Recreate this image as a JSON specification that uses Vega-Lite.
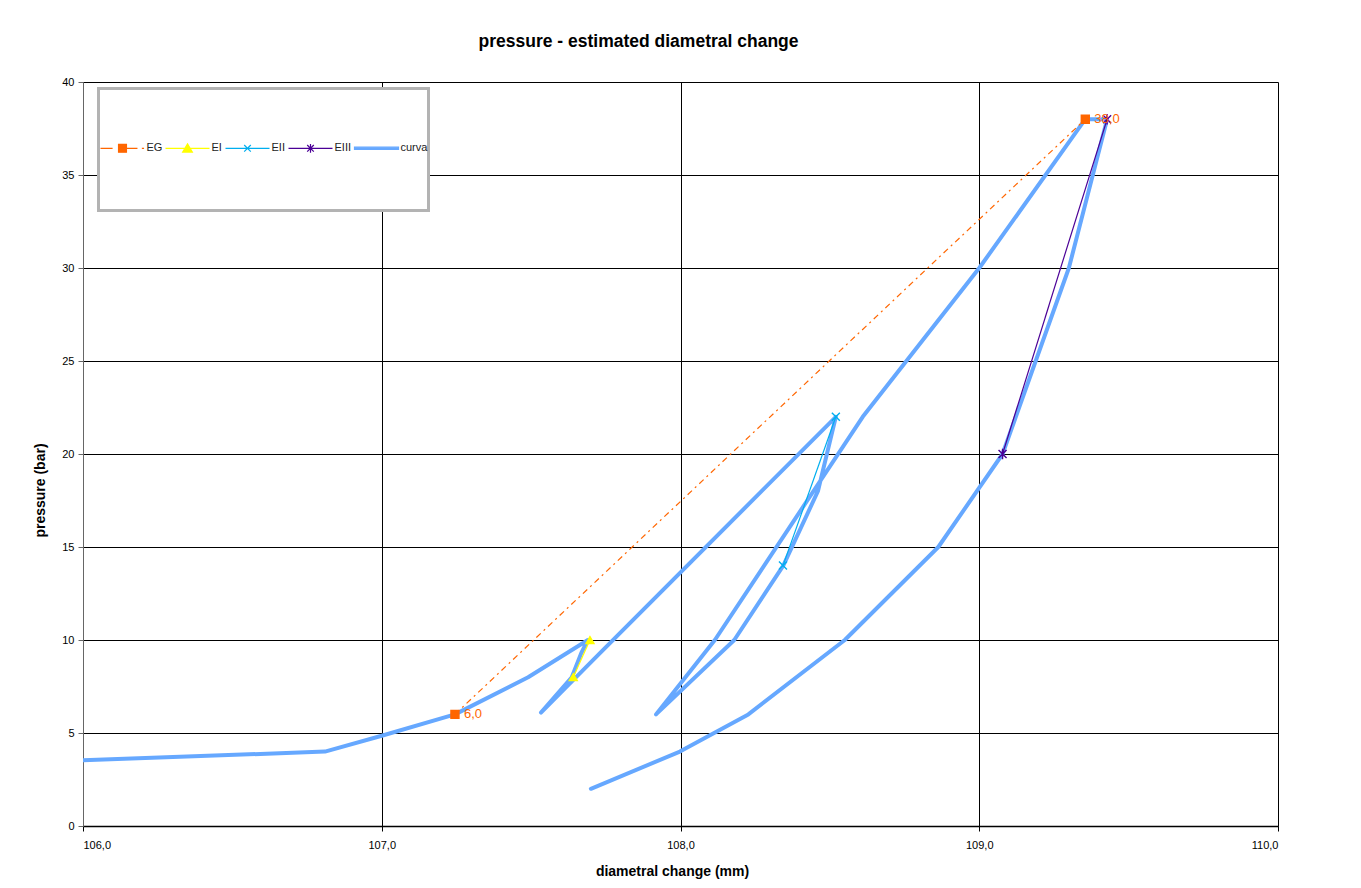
{
  "$schema": "https://vega.github.io/schema/vega-lite/v6.json",
  "width": 1195,
  "height": 744,
  "autosize": {"type": "none"},
  "padding": {"left": 83, "top": 82, "right": 83, "bottom": 62},
  "background": "white",
  "title": {
    "text": "pressure - estimated diametral change",
    "font": "Liberation Sans",
    "fontSize": 17.5,
    "fontWeight": "bold",
    "color": "#000000",
    "anchor": "middle",
    "dx": -42,
    "offset": 26
  },
  "data": {
    "values": [
      {"series": "curva", "i": 1, "x": 105.08, "p": 3.0},
      {"series": "curva", "i": 2, "x": 106.81, "p": 4.0},
      {"series": "curva", "i": 3, "x": 107.0, "p": 4.85},
      {"series": "curva", "i": 4, "x": 107.245, "p": 6.0},
      {"series": "curva", "i": 5, "x": 107.49, "p": 8.0},
      {"series": "curva", "i": 6, "x": 107.69, "p": 10.0},
      {"series": "curva", "i": 7, "x": 107.668, "p": 9.3},
      {"series": "curva", "i": 8, "x": 107.636, "p": 8.0},
      {"series": "curva", "i": 9, "x": 107.533, "p": 6.1},
      {"series": "curva", "i": 10, "x": 107.712, "p": 9.0},
      {"series": "curva", "i": 11, "x": 108.52, "p": 22.0},
      {"series": "curva", "i": 12, "x": 108.46, "p": 18.0},
      {"series": "curva", "i": 13, "x": 108.344, "p": 14.0},
      {"series": "curva", "i": 14, "x": 108.18, "p": 10.0},
      {"series": "curva", "i": 15, "x": 107.918, "p": 6.0},
      {"series": "curva", "i": 16, "x": 108.115, "p": 10.0},
      {"series": "curva", "i": 17, "x": 108.61, "p": 22.0},
      {"series": "curva", "i": 18, "x": 109.0, "p": 30.0},
      {"series": "curva", "i": 19, "x": 109.355, "p": 38.0},
      {"series": "curva", "i": 20, "x": 109.428, "p": 38.0},
      {"series": "curva", "i": 21, "x": 109.3, "p": 30.0},
      {"series": "curva", "i": 22, "x": 109.078, "p": 20.0},
      {"series": "curva", "i": 23, "x": 108.863, "p": 15.0},
      {"series": "curva", "i": 24, "x": 108.55, "p": 10.0},
      {"series": "curva", "i": 25, "x": 108.227, "p": 6.0},
      {"series": "curva", "i": 26, "x": 107.998, "p": 4.0},
      {"series": "curva", "i": 27, "x": 107.7, "p": 2.0},
      {"series": "EG", "i": 1, "x": 107.245, "p": 6.0},
      {"series": "EG", "i": 2, "x": 109.355, "p": 38.0},
      {"series": "EI", "i": 1, "x": 107.641, "p": 8.0},
      {"series": "EI", "i": 2, "x": 107.697, "p": 10.0},
      {"series": "EII", "i": 1, "x": 108.343, "p": 14.0},
      {"series": "EII", "i": 2, "x": 108.52, "p": 22.0},
      {"series": "EIII", "i": 1, "x": 109.078, "p": 20.0},
      {"series": "EIII", "i": 2, "x": 109.428, "p": 38.0}
    ]
  },
  "encoding": {
    "x": {
      "field": "x",
      "type": "quantitative",
      "scale": {"domain": [106, 110], "nice": false, "zero": false},
      "axis": {
        "title": "diametral change (mm)",
        "values": [106, 107, 108, 109, 110],
        "format": ".1f",
        "titleX": 589,
        "titlePadding": 14
      }
    },
    "y": {
      "field": "p",
      "type": "quantitative",
      "scale": {"domain": [0, 40], "nice": false},
      "axis": {
        "title": "pressure (bar)",
        "values": [0, 5, 10, 15, 20, 25, 30, 35, 40],
        "format": "d",
        "titleX": -43,
        "titleY": 408,
        "titleBaseline": "middle",
        "domainColor": "#666666",
        "tickColor": "#666666"
      }
    },
    "order": {"field": "i", "type": "quantitative"}
  },
  "layer": [
    {
      "transform": [{"filter": "datum.series === 'curva'"}],
      "mark": {"type": "line", "strokeWidth": 4, "strokeCap": "round", "strokeJoin": "round", "clip": true},
      "encoding": {
        "color": {
          "field": "series",
          "type": "nominal",
          "scale": {"domain": ["EG", "EI", "EII", "EIII", "curva"], "range": ["#FF6600", "#FFFF00", "#00AEEF", "#4B0096", "#66A8FF"]},
          "legend": {
            "title": null,
            "orient": "none",
            "legendX": 15.5,
            "legendY": 6.5,
            "direction": "horizontal",
            "symbolSize": 1936,
            "labelFont": "Liberation Sans",
            "labelFontSize": 11,
            "labelColor": "#222222",
            "labelOffset": 1,
            "columnPadding": 0,
            "padding": 1,
            "strokeColor": "#b3b3b3",
            "fillColor": "white",
            "encode": {
              "symbols": {
                "update": {
                  "shape": {"signal": "datum.value === 'EG' ? 'M0,-2.66M0,2.66M-1,0H-0.45M-0.18,0H0.68M0.88,0H0.98M-0.18,-0.18H0.18V0.18H-0.18Z' : datum.value === 'EI' ? 'M0,-2.66M0,2.66M-1,0H1M0,-0.2L0.22,0.17H-0.22Z' : datum.value === 'EII' ? 'M0,-2.66M0,2.66M-1,0H1M-0.15,-0.15L0.15,0.15M-0.15,0.15L0.15,-0.15' : datum.value === 'EIII' ? 'M0,-2.66M0,2.66M-1,0H1M-0.15,-0.15L0.15,0.15M-0.15,0.15L0.15,-0.15M0,-0.2V0.2' : 'M0,-2.66M0,2.66M-1,-0.05H1V0.05H-1Z'"},
                  "fill": {"scale": "color", "field": "value"},
                  "stroke": {"scale": "color", "field": "value"},
                  "strokeWidth": {"value": 1.2},
                  "opacity": {"value": 1},
                  "size": {"value": 1936},
                  "y": {"value": 58.5}
                }
              },
              "labels": {
                "update": {
                  "y": {"value": 58.5}
                }
              }
            }
          }
        }
      }
    },
    {
      "transform": [{"filter": "datum.series === 'EG'"}],
      "mark": {"type": "line", "strokeWidth": 1.2, "strokeDash": [6, 4, 2, 4], "clip": true},
      "encoding": {"color": {"field": "series", "type": "nominal"}}
    },
    {
      "transform": [{"filter": "datum.series === 'EI' || datum.series === 'EII' || datum.series === 'EIII'"}],
      "mark": {"type": "line", "strokeWidth": 1.2, "clip": true},
      "encoding": {"color": {"field": "series", "type": "nominal"}, "detail": {"field": "series"}}
    },
    {
      "transform": [{"filter": "datum.series !== 'curva'"}],
      "mark": {"type": "point", "filled": true, "size": 64, "strokeWidth": 1.4, "opacity": 1},
      "encoding": {
        "color": {"field": "series", "type": "nominal"},
        "stroke": {
          "field": "series",
          "type": "nominal",
          "scale": {"domain": ["EG", "EI", "EII", "EIII"], "range": ["#FF6600", "#FFFF00", "#00AEEF", "#4B0096"]},
          "legend": null
        },
        "shape": {
          "field": "series",
          "type": "nominal",
          "scale": {"domain": ["EG", "EI", "EII", "EIII"], "range": ["square", "triangle-up", "M-1,-1L1,1M-1,1L1,-1", "M-1,-1L1,1M-1,1L1,-1M0,-1.3V1.3"]},
          "legend": null
        }
      }
    },
    {
      "transform": [{"filter": "datum.series === 'EG'"}],
      "mark": {"type": "text", "align": "left", "baseline": "middle", "dx": 9, "font": "Liberation Sans", "fontSize": 13, "color": "#FF6600"},
      "encoding": {"text": {"field": "p", "type": "quantitative", "format": ".1f"}}
    }
  ],
  "config": {
    "locale": {"number": {"decimal": ",", "thousands": ".", "grouping": [3], "currency": ["", " €"]}},
    "view": {"stroke": null},
    "legend": {"strokeWidth": 3},
    "axis": {
      "labelFont": "Liberation Sans",
      "labelFontSize": 11,
      "labelColor": "#000000",
      "titleFont": "Liberation Sans",
      "titleFontSize": 14,
      "titleFontWeight": "bold",
      "titleColor": "#000000",
      "gridColor": "#000000",
      "gridWidth": 1,
      "gridOpacity": 1,
      "domainColor": "#000000",
      "tickColor": "#000000",
      "tickSize": 5,
      "labelPadding": 4
    },
    "axisX": {"domainWidth": 1.5, "labelPadding": 8}
  }
}
